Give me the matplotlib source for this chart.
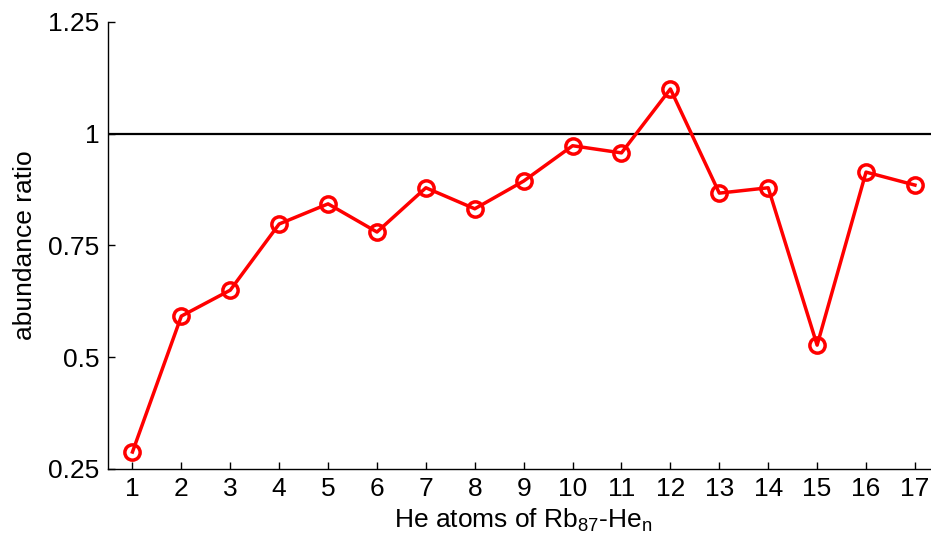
import matplotlib
matplotlib.use('Agg')
import matplotlib.pyplot as plt

# abundance ratio per number of He atoms
n_atoms = list(range(1, 18))
ratio = [0.288, 0.592, 0.650, 0.798, 0.843, 0.780, 0.879, 0.832, 0.894,
         0.973, 0.957, 1.100, 0.867, 0.879, 0.527, 0.914, 0.885]
y_ticks = [0.25, 0.5, 0.75, 1, 1.25]
y_tick_labels = ['0.25', '0.5', '0.75', '1', '1.25']

plt.rcParams['font.family'] = ['Liberation Sans', 'DejaVu Sans']
plt.rcParams['mathtext.fontset'] = 'custom'
plt.rcParams['mathtext.rm'] = 'Liberation Sans'

fig = plt.figure(figsize=(9.31, 5.47), dpi=100)
ax = fig.add_axes([0.116, 0.1426, 0.893, 0.8174])

ax.axhline(1, color='black', lw=1.6, zorder=1)
ax.plot(n_atoms, ratio, color='red', lw=2.5, marker='o', markersize=11,
        markerfacecolor='none', markeredgewidth=2.5, zorder=2)

ax.set_xlim(0.5, 17.5)
ax.set_ylim(0.25, 1.25)
ax.set_xticks(n_atoms)
ax.set_yticks(y_ticks)
ax.set_yticklabels(y_tick_labels)

for s in ['top', 'right']:
    ax.spines[s].set_visible(False)
for s in ['left', 'bottom']:
    ax.spines[s].set_linewidth(1.0)

ax.tick_params(direction='in', length=5, width=1, labelsize=19, pad=6)
ax.set_xlabel(r'He atoms of Rb$_{\mathregular{87}}$-He$_{\mathregular{n}}$', fontsize=19, labelpad=4)
ax.set_ylabel('abundance ratio', fontsize=19, labelpad=8)

fig.savefig('out.png', dpi=100)
